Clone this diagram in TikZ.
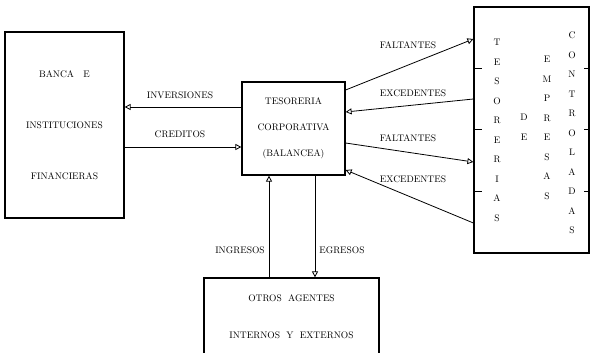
\documentclass[tikz,border=0pt]{standalone}
\usetikzlibrary{arrows.meta,positioning}
\begin{document}
\begin{tikzpicture}[x=1pt,y=-1pt,
    every node/.style={font=\fontsize{9.5}{11}\selectfont},
    caja/.style={draw,line width=1.2pt,inner sep=0pt,align=center},
    flecha/.style={line width=0.8pt,-{Triangle[open,length=6pt,width=6pt]}},
    columna/.style={align=center,inner sep=0pt,font=\fontsize{9.5}{19.5}\selectfont}]

    % marco de la figura
    \clip (0,0) rectangle (590,353);

    % --- cajas ---
    \node[caja,minimum width=119pt,minimum height=186pt] (banca) at (64.5,125)
        {BANCA\quad E\\[40pt]INSTITUCIONES\\[40pt]FINANCIERAS};
    \node[caja,minimum width=103pt,minimum height=93pt] (tesoreria) at (293.5,128.5)
        {TESORERIA\\[15pt]CORPORATIVA\\[15pt](BALANCEA)};
    \node[caja,minimum width=115pt,minimum height=246pt] (empresas) at (531.5,130) {};
    \node[caja,minimum width=175pt,minimum height=77pt] (agentes) at (291.5,316.5)
        {OTROS\ \ AGENTES\\[26pt]INTERNOS\ \ Y\ \ EXTERNOS};

    % texto vertical de la caja derecha
    \node[columna] (tesorerias) at (497,130.5) {T\\E\\S\\O\\R\\E\\R\\I\\A\\S};
    \node[columna] (de) at (524,127.5) {D\\E};
    \node[columna] (emp) at (547,128) {E\\M\\P\\R\\E\\S\\A\\S};
    \node[columna] (controladas) at (572,133) {C\\O\\N\\T\\R\\O\\L\\A\\D\\A\\S};

    % marcas en los lados de la caja derecha
    \foreach \y in {68,129,191} {
        \draw[line width=0.8pt] (empresas.west |- 0,\y) -- ++(9,0);
        \draw[line width=0.8pt] (empresas.east |- 0,\y) -- ++(-6,0);
    }

    % --- flechas con la banca ---
    \coordinate (inv) at ([yshift=21.5pt]tesoreria.west);
    \draw[flecha] (inv) -- (inv -| banca.east);
    \coordinate (cred) at ([yshift=-22pt]banca.east);
    \draw[flecha] (cred) -- (cred -| tesoreria.west);

    % --- flechas con las empresas controladas ---
    \draw[flecha] ([yshift=38.5pt]tesoreria.east) -- ([yshift=91pt]empresas.west);
    \draw[flecha] ([yshift=31pt]empresas.west) -- ([yshift=16.5pt]tesoreria.east);
    \draw[flecha] ([yshift=-14.5pt]tesoreria.east) -- ([yshift=-32pt]empresas.west);
    \draw[flecha] ([yshift=-93pt]empresas.west) -- ([yshift=-41.5pt]tesoreria.east);

    % --- flechas con otros agentes ---
    \coordinate (ing) at ([xshift=-24.5pt]tesoreria.south);
    \draw[flecha] (ing |- agentes.north) -- (ing);
    \coordinate (egr) at ([xshift=21.5pt]tesoreria.south);
    \draw[flecha] (egr) -- (egr |- agentes.north);

    % etiquetas
    \node (linv) at (180,95) {INVERSIONES};
    \node (lcred) at (180,134) {CREDITOS};
    \node (lfal1) at (408,45) {FALTANTES};
    \node (lexc1) at (413,93) {EXCEDENTES};
    \node (lfal2) at (408,138) {FALTANTES};
    \node (lexc2) at (413,179) {EXCEDENTES};
    \node (ling) at (240,250) {INGRESOS};
    \node (legr) at (342,250) {EGRESOS};
\end{tikzpicture}
\end{document}
